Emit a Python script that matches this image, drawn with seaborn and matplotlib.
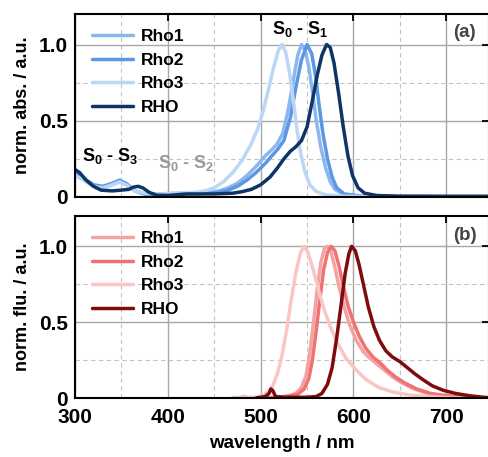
import numpy as np
import pandas as pd
import seaborn as sns
import matplotlib.pyplot as plt
from matplotlib.ticker import MultipleLocator

# names / colours
names = ['Rho1', 'Rho2', 'Rho3', 'RHO']
blues = ['#8cb7ec', '#5b97e5', '#bcd6f6', '#0f3566']
reds = ['#f4a3a3', '#f07272', '#f9c6c6', '#7e0c0c']

# absorption spectra (wavelength nm, normalised abs)
abs_rho1_wl = [300, 310, 320, 330, 340, 348, 355, 365, 375, 390, 410, 430, 445, 455, 465, 475, 485, 495, 505, 512,
               518, 524, 530, 535, 540, 544, 548, 552, 556, 560, 565, 570, 575, 580, 590, 610, 750]
abs_rho1 = [0.15, 0.11, 0.07, 0.06, 0.08, 0.10, 0.08, 0.04, 0.02, 0.02, 0.025, 0.025, 0.03, 0.04, 0.06, 0.09, 0.14,
            0.20, 0.27, 0.31, 0.35, 0.42, 0.58, 0.76, 0.93, 1.0, 0.96, 0.85, 0.68, 0.5, 0.32, 0.19, 0.1, 0.05, 0.015,
            0.005, 0.0]

abs_rho2_wl = [300, 310, 320, 330, 340, 348, 355, 365, 375, 390, 410, 430, 445, 455, 465, 475, 485, 495, 505, 512,
               518, 525, 532, 538, 544, 550, 555, 559, 563, 567, 572, 577, 582, 590, 610, 750]
abs_rho2 = [0.16, 0.12, 0.08, 0.07, 0.09, 0.11, 0.09, 0.04, 0.02, 0.015, 0.02, 0.02, 0.025, 0.03, 0.045, 0.07, 0.11,
            0.16, 0.22, 0.27, 0.31, 0.37, 0.52, 0.72, 0.9, 1.0, 0.94, 0.8, 0.6, 0.42, 0.25, 0.13, 0.06, 0.02, 0.005,
            0.0]

abs_rho3_wl = [300, 310, 320, 330, 340, 348, 355, 365, 375, 390, 410, 430, 440, 450, 460, 470, 480, 490, 497, 503,
               509, 514, 519, 523, 527, 531, 535, 539, 543, 548, 553, 560, 570, 590, 750]
abs_rho3 = [0.14, 0.11, 0.07, 0.06, 0.08, 0.1, 0.08, 0.04, 0.025, 0.02, 0.025, 0.03, 0.04, 0.06, 0.1, 0.16, 0.24,
            0.35, 0.45, 0.57, 0.72, 0.85, 0.96, 1.0, 0.95, 0.82, 0.64, 0.45, 0.29, 0.16, 0.08, 0.035, 0.015, 0.005,
            0.0]

abs_RHO_wl = [300, 305, 312, 320, 328, 340, 350, 358, 363, 368, 373, 380, 388, 400, 420, 450, 470, 480, 490, 500,
              510, 518, 525, 532, 538, 544, 550, 556, 561, 566, 571, 575, 579, 584, 589, 594, 599, 605, 612, 625,
              650, 750]
abs_RHO = [0.18, 0.16, 0.11, 0.07, 0.045, 0.04, 0.045, 0.05, 0.065, 0.07, 0.06, 0.03, 0.012, 0.01, 0.02, 0.02,
           0.025, 0.035, 0.05, 0.08, 0.13, 0.19, 0.25, 0.3, 0.33, 0.37, 0.46, 0.64, 0.8, 0.93, 1.0, 0.98, 0.88,
           0.68, 0.46, 0.27, 0.14, 0.06, 0.025, 0.01, 0.005, 0.005]

# fluorescence spectra
flu_rho1_wl = [470, 500, 520, 530, 538, 544, 549, 553, 557, 561, 565, 569, 572, 576, 580, 585, 590, 596, 603, 610,
               618, 626, 634, 642, 652, 665, 680, 700, 730, 750]
flu_rho1 = [0.0, 0.0, 0.005, 0.015, 0.03, 0.07, 0.15, 0.3, 0.5, 0.72, 0.9, 0.99, 1.0, 0.96, 0.86, 0.72, 0.6, 0.48,
            0.38, 0.31, 0.26, 0.22, 0.18, 0.14, 0.1, 0.06, 0.03, 0.01, 0.0, 0.0]

flu_rho2_wl = [470, 500, 520, 530, 540, 547, 552, 556, 560, 564, 568, 572, 576, 580, 584, 589, 594, 600, 606, 613,
               621, 629, 637, 645, 655, 668, 683, 700, 730, 750]
flu_rho2 = [0.0, 0.0, 0.005, 0.01, 0.025, 0.06, 0.13, 0.26, 0.45, 0.66, 0.85, 0.96, 1.0, 0.97, 0.88, 0.74, 0.61,
            0.5, 0.41, 0.33, 0.27, 0.23, 0.18, 0.14, 0.1, 0.06, 0.03, 0.015, 0.0, 0.0]

flu_rho3_wl = [470, 478, 482, 486, 495, 502, 508, 513, 518, 523, 528, 533, 538, 543, 547, 551, 556, 562, 568, 575,
               583, 592, 602, 614, 627, 642, 660, 680, 710, 750]
flu_rho3 = [0.0, 0.005, 0.012, 0.005, 0.005, 0.015, 0.04, 0.08, 0.16, 0.28, 0.45, 0.65, 0.83, 0.96, 1.0, 0.96,
            0.86, 0.72, 0.59, 0.47, 0.36, 0.26, 0.19, 0.12, 0.07, 0.04, 0.02, 0.01, 0.0, 0.0]

flu_RHO_wl = [495, 505, 509, 511, 513, 516, 525, 550, 560, 566, 572, 577, 582, 587, 591, 595, 598, 602, 606, 611,
              616, 622, 628, 635, 642, 650, 658, 666, 675, 685, 697, 710, 725, 740, 750]
flu_RHO = [0.0, 0.01, 0.03, 0.06, 0.05, 0.01, 0.005, 0.005, 0.01, 0.03, 0.09, 0.2, 0.4, 0.63, 0.82, 0.95, 1.0,
           0.97, 0.88, 0.74, 0.6, 0.47, 0.38, 0.31, 0.27, 0.24, 0.2, 0.16, 0.12, 0.08, 0.05, 0.03, 0.015, 0.005, 0.0]


def long_df(pairs):
    frames = []
    for name, (wl, val) in zip(names, pairs):
        frames.append(pd.DataFrame({'wl': wl, 'val': val, 'dye': name}))
    return pd.concat(frames, ignore_index=True)


df_abs = long_df([(abs_rho1_wl, abs_rho1), (abs_rho2_wl, abs_rho2), (abs_rho3_wl, abs_rho3), (abs_RHO_wl, abs_RHO)])
df_flu = long_df([(flu_rho1_wl, flu_rho1), (flu_rho2_wl, flu_rho2), (flu_rho3_wl, flu_rho3), (flu_RHO_wl, flu_RHO)])

sns.set_style('white')
plt.rcParams['font.family'] = ['Liberation Sans', 'DejaVu Sans']
plt.rcParams['font.weight'] = 'bold'
plt.rcParams['mathtext.default'] = 'bf'
plt.rcParams['mathtext.fontset'] = 'custom'
plt.rcParams['mathtext.bf'] = 'Liberation Sans:bold'
for key in ['text.color', 'axes.labelcolor', 'xtick.color', 'ytick.color']:
    plt.rcParams[key] = 'black'

fig = plt.figure(figsize=(4.88, 4.57), dpi=100)
ax1 = fig.add_axes([75 / 488, 260 / 457, 414 / 488, 183 / 457])
ax2 = fig.add_axes([75 / 488, 59 / 457, 414 / 488, 182 / 457])

for ax, df, pal, ylab in [(ax1, df_abs, blues, 'norm. abs. / a.u.'), (ax2, df_flu, reds, 'norm. flu. / a.u.')]:
    sns.lineplot(data=df, x='wl', y='val', hue='dye', hue_order=names, palette=pal, sort=False,
                 estimator=None, lw=2.5, ax=ax)
    ax.set_xlim(300, 746)
    ax.set_ylim(0, 1.2)
    ax.xaxis.set_major_locator(MultipleLocator(100))
    ax.xaxis.set_minor_locator(MultipleLocator(50))
    ax.set_yticks([0, 0.5, 1.0])
    ax.set_yticklabels(['0', '0.5', '1.0'])
    ax.yaxis.set_minor_locator(MultipleLocator(0.25))
    ax.grid(True, which='major', color='#a8a8a8', lw=1.0, ls='-')
    ax.grid(True, which='minor', color='#c4c4c4', lw=0.8, ls=(0, (4, 3)))
    ax.set_axisbelow(True)
    ax.tick_params(which='major', direction='in', length=5, width=1.3, top=True, right=True,
                   labelsize=15, color='black')
    ax.tick_params(axis='x', pad=7)
    ax.tick_params(axis='y', pad=5)
    ax.tick_params(which='minor', length=0)
    for lab in ax.get_xticklabels() + ax.get_yticklabels():
        lab.set_fontweight('bold')
    for sp in ax.spines.values():
        sp.set_linewidth(1.5)
        sp.set_color('black')
    ax.set_ylabel(ylab, fontsize=13, fontweight='bold', labelpad=6)
    ax.legend(loc='upper left', bbox_to_anchor=(0.015, 0.975), frameon=False,
              handlelength=2.4, handletextpad=0.45, labelspacing=0.48, borderaxespad=0.2,
              prop={'weight': 'bold', 'size': 12.5})

ax1.set_xlabel('')
ax1.tick_params(labelbottom=False)
ax2.set_xlabel('wavelength / nm', fontsize=13.5, fontweight='bold', labelpad=6)

ax1.text(338, 0.27, r'S$_0$ - S$_3$', fontsize=13, fontweight='bold', ha='center', va='center')
ax1.text(420, 0.22, r'S$_0$ - S$_2$', fontsize=13, fontweight='bold', ha='center', va='center', color='#999999')
ax1.text(543, 1.10, r'S$_0$ - S$_1$', fontsize=13, fontweight='bold', ha='center', va='center')
ax1.text(720, 1.08, '(a)', fontsize=13.5, fontweight='bold', ha='center', va='center', color='#444444')
ax2.text(720, 1.07, '(b)', fontsize=13.5, fontweight='bold', ha='center', va='center', color='#444444')

fig.savefig('out.png', dpi=100)
